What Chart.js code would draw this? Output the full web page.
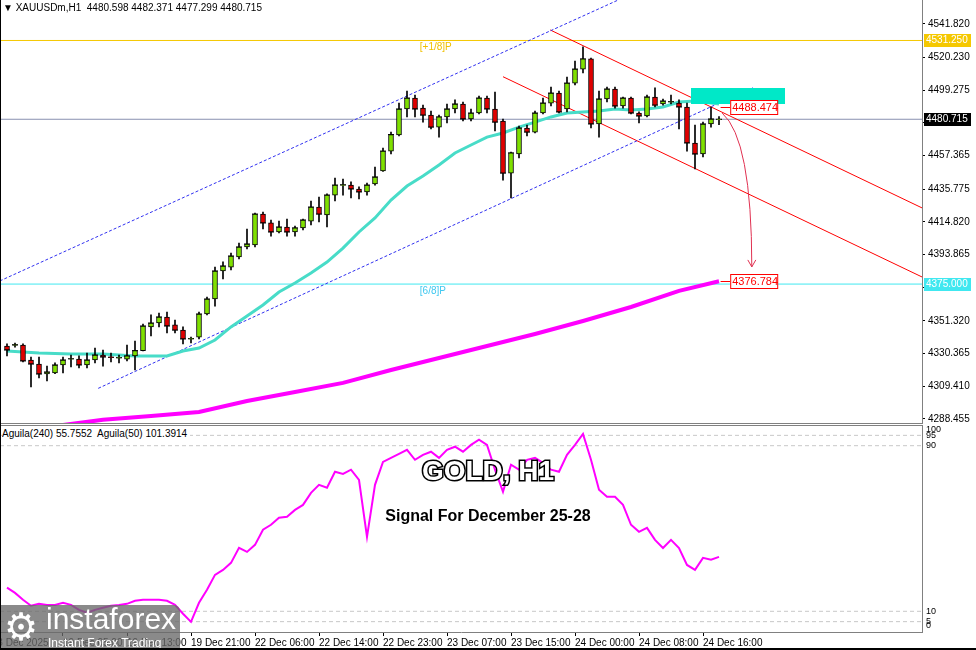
<!DOCTYPE html>
<html>
<head>
<meta charset="utf-8">
<script src="https://cdn.jsdelivr.net/npm/chart.js@4.4.0/dist/chart.umd.min.js"></script>
<style>
  html, body { margin: 0; padding: 0; background: #fff; }
  #wrap { position: relative; width: 976px; height: 650px; overflow: hidden; background: #fff;
          font-family: "Liberation Sans", Arial, sans-serif; }
  #main { position: absolute; left: 0; top: 0; }
  #ind { position: absolute; left: 0; top: 425px; }
  .hdr { position: absolute; left: 3px; top: 2px; font-size: 10px; color: #000; white-space: pre; }
  .indlbl { position: absolute; left: 2px; top: 428px; font-size: 10px; color: #000; background: #fff;
            padding-right: 3px; white-space: pre; }
  .big { position: absolute; left: 0; width: 976px; text-align: center; font-weight: bold; white-space: pre; }
  #gold { top: 455px; font-size: 28px; color: #fff; -webkit-text-stroke: 3px #000; paint-order: stroke fill; }
  #signal { top: 507px; font-size: 16px; color: #000; }
  #wm { position: absolute; left: 0; top: 605px; width: 180px; height: 45px; background: rgba(105,105,105,0.78);
        border-top-right-radius: 6px; color: #fff; }
  #wm .gear { position: absolute; left: 4px; top: 0px; font-size: 38px; font-family: "DejaVu Sans"; }
  #wm .name { position: absolute; left: 46px; top: -3px; font-size: 30px; }
  #wm .tag { position: absolute; left: 48px; top: 31px; font-size: 12px; }
  #edgeL { position: absolute; left: 0; top: 0; width: 1px; height: 650px; background: #000; }
  #edgeB { position: absolute; left: 0; top: 648px; width: 976px; height: 2px; background: #000; }
</style>
</head>
<body>
<div id="wrap">
  <canvas id="main" width="976" height="424"></canvas>
  <canvas id="ind" width="976" height="225"></canvas>
  <div class="hdr">▼ XAUUSDm,H1  4480.598 4482.371 4477.299 4480.715</div>
  <div class="indlbl">Aguila(240) 55.7552  Aguila(50) 101.3914</div>
  <div class="big" id="gold">GOLD, H1</div>
  <div class="big" id="signal">Signal For December 25-28</div>
  <div id="wm"><span class="gear">⚙</span><span class="name">instaforex</span><span class="tag">Instant Forex Trading</span></div>
  <div id="edgeL"></div>
  <div id="edgeB"></div>
</div>
<script>
// hourly candles, bar 0 .. 89
const opens = [4335.3, 4335.7, 4335.9, 4326.3, 4323.7, 4317.3, 4318.0, 4323.1, 4326.8, 4326.9,
  4323.1, 4326.3, 4329.5, 4328.3, 4327.5, 4326.9, 4328.9, 4332.3, 4347.5, 4350.0,
  4353.9, 4348.8, 4345.5, 4339.6, 4341.0, 4355.8, 4365.4, 4383.4, 4385.9, 4392.4,
  4398.8, 4400.1, 4419.9, 4414.2, 4408.4, 4411.6, 4408.4, 4411.0, 4415.4, 4424.4,
  4419.3, 4432.1, 4438.3, 4438.5, 4436.0, 4434.1, 4439.2, 4447.5, 4460.3, 4470.6,
  4487.3, 4494.3, 4487.9, 4483.4, 4475.7, 4482.2, 4487.3, 4490.5, 4480.9, 4484.7,
  4494.3, 4487.3, 4479.6, 4446.2, 4458.4, 4475.1, 4472.5, 4484.7, 4491.1, 4497.5,
  4487.3, 4503.9, 4512.9, 4519.4, 4477.7, 4493.7, 4500.1, 4489.2, 4494.3, 4484.7,
  4482.8, 4495.0, 4490.5, 4491.6, 4491.1, 4488.6, 4465.5, 4458.4, 4477.7, 4480.6];
const highs = [4336.6, 4337.2, 4336.6, 4328.2, 4328.2, 4322.4, 4324.4, 4328.2, 4329.5, 4328.9,
  4330.8, 4334.0, 4332.7, 4330.8, 4329.5, 4335.9, 4338.5, 4349.4, 4355.2, 4356.4,
  4357.1, 4351.9, 4347.5, 4341.0, 4357.1, 4366.7, 4385.9, 4389.2, 4394.9, 4401.3,
  4410.3, 4420.6, 4421.2, 4416.1, 4415.4, 4416.7, 4412.2, 4416.7, 4428.3, 4430.8,
  4432.8, 4443.0, 4442.4, 4440.5, 4437.3, 4439.8, 4450.1, 4462.3, 4472.5, 4491.1,
  4498.8, 4496.3, 4489.8, 4486.0, 4483.4, 4490.5, 4493.1, 4491.8, 4487.3, 4495.6,
  4495.6, 4498.2, 4480.9, 4459.7, 4476.4, 4477.0, 4486.0, 4494.3, 4501.4, 4498.8,
  4507.8, 4518.1, 4527.1, 4520.0, 4498.8, 4501.4, 4501.4, 4495.0, 4495.0, 4485.4,
  4496.3, 4500.8, 4493.7, 4496.3, 4493.1, 4491.1, 4477.0, 4478.9, 4488.6, 4482.4];
const lows = [4328.9, 4334.6, 4325.0, 4309.0, 4314.8, 4312.8, 4317.5, 4318.0, 4321.8, 4321.2,
  4321.2, 4324.4, 4322.4, 4325.0, 4324.4, 4325.7, 4319.9, 4332.1, 4341.7, 4347.5,
  4343.6, 4343.6, 4336.6, 4337.2, 4339.8, 4355.2, 4360.9, 4378.3, 4384.0, 4391.1,
  4397.5, 4398.8, 4410.3, 4405.8, 4407.8, 4405.8, 4405.8, 4409.7, 4412.9, 4414.8,
  4411.6, 4428.3, 4432.1, 4430.2, 4429.6, 4432.1, 4438.5, 4447.2, 4458.4, 4470.0,
  4482.2, 4482.2, 4478.9, 4474.5, 4469.3, 4478.3, 4484.7, 4479.6, 4479.6, 4484.1,
  4484.7, 4473.2, 4441.7, 4430.2, 4455.9, 4470.0, 4471.9, 4484.1, 4489.2, 4484.7,
  4485.4, 4502.7, 4510.4, 4475.1, 4469.3, 4491.8, 4487.9, 4487.9, 4484.1, 4478.3,
  4482.2, 4488.6, 4489.8, 4490.5, 4474.5, 4460.3, 4448.8, 4456.5, 4475.7, 4477.3];
const closes = [4332.7, 4336.1, 4325.7, 4323.7, 4317.3, 4318.6, 4323.1, 4326.3, 4327.1, 4323.1,
  4326.3, 4329.5, 4328.2, 4328.0, 4327.8, 4328.9, 4332.3, 4348.1, 4350.0, 4353.9,
  4348.1, 4345.5, 4339.8, 4340.0, 4355.8, 4365.4, 4383.4, 4386.6, 4393.0, 4398.8,
  4400.7, 4419.9, 4414.2, 4408.4, 4411.6, 4408.4, 4411.0, 4416.1, 4424.4, 4419.9,
  4432.1, 4438.5, 4438.7, 4436.0, 4434.1, 4438.5, 4443.7, 4460.3, 4470.9, 4487.3,
  4494.3, 4487.3, 4483.4, 4475.7, 4482.2, 4487.3, 4490.5, 4480.9, 4484.7, 4494.3,
  4487.3, 4478.9, 4446.2, 4459.1, 4475.1, 4472.5, 4484.7, 4491.1, 4497.5, 4485.4,
  4503.9, 4512.9, 4519.4, 4477.7, 4493.7, 4500.1, 4489.2, 4494.3, 4484.7, 4482.8,
  4495.0, 4489.8, 4492.4, 4492.0, 4488.6, 4465.5, 4458.4, 4477.7, 4480.9, 4480.7];

const maFastBars = [0, 4, 8, 12, 16, 20, 22, 24, 26, 28, 30, 32, 34, 36, 38, 40, 42, 44, 46, 48,
  50, 52, 54, 56, 58, 60, 62, 64, 66, 68, 70, 72, 74, 76, 78, 80, 82, 84, 86, 88, 89];
const maFast = [4332.1, 4330.8, 4330.1, 4330.1, 4328.9, 4328.9, 4332.1, 4334.0, 4339.1, 4347.5,
  4354.5, 4361.6, 4369.9, 4375.7, 4382.1, 4389.1, 4398.1, 4408.4, 4417.4, 4428.9,
  4437.9, 4444.3, 4451.4, 4459.1, 4464.2, 4469.3, 4471.9, 4475.7, 4478.9, 4482.2,
  4484.7, 4485.4, 4486.0, 4487.3, 4486.7, 4487.3, 4488.6, 4491.8, 4492.4, 4491.1, 4490.5];
const maSlowBars = [0, 7, 12, 18, 24, 30, 36, 42, 48, 54, 60, 66, 72, 78, 84, 89];
const maSlow = [4280.5, 4284.6, 4287.9, 4290.4, 4293.0, 4300.0, 4305.8, 4311.6, 4319.9, 4327.6,
  4335.3, 4343.0, 4351.3, 4360.3, 4370.6, 4376.8];

// Aguila oscillator, one value per bar
const aguila = [21.4, 18.9, 15.6, 12.7, 13.6, 13.1, 13.1, 14.1, 13.1, 10.7,
  9.3, 10.7, 11.7, 12.7, 13.1, 13.6, 15.1, 15.6, 15.6, 15.6,
  15.1, 13.1, 8.8, 4.9, 14.1, 20.4, 27.6, 30.0, 33.4, 40.7,
  38.7, 42.1, 49.4, 51.8, 55.2, 55.7, 59.0, 61.4, 67.2, 71.1,
  69.7, 77.4, 76.4, 78.4, 73.5, 46.0, 71.1, 82.2, 84.1, 86.1,
  88.0, 83.2, 85.6, 87.1, 84.1, 88.0, 89.5, 87.1, 90.4, 92.9,
  90.4, 78.4, 67.7, 80.8, 78.4, 83.2, 84.1, 81.7, 78.4, 77.4,
  85.6, 90.4, 95.7, 83.2, 68.7, 65.3, 65.3, 61.4, 51.8, 48.4,
  50.3, 44.5, 40.6, 44.5, 40.6, 32.4, 30.0, 35.8, 34.9, 36.3];
const aguilaLevels = [95, 90, 10, 5];
const aguilaTicks = [100, 95, 90, 10, 5, 0];

// drawn objects: [bar, price] pairs
const blueUpper = [[-0.9, 4377.0], [76.4, 4557.2]];
const blueLower = [[11.4, 4308.1], [93.25, 4501.1]];
const redUpper = [[67.9, 4538.0], [114.4, 4423.8]];
const redLower = [[62.0, 4508.0], [114.4, 4379.5]];
const zoneBars = [85.5, 97.25];
const zonePrices = [4490.5, 4500.8];
const levelPlus18 = 4531.25;
const level68 = 4375.0;
const lastPrice = 4480.715;
const targetTop = 4488.474;
const targetLow = 4376.784;
const arrowPath = [[89.4, 4484.7], [93.1, 4468.0], [93.1, 4386.0]];

const priceTicks = [4541.820, 4520.230, 4499.275, 4478.320, 4457.365, 4435.775, 4414.820,
  4393.865, 4372.910, 4351.320, 4330.365, 4309.410, 4288.455];
const timeTickBars = [-1.9, 7, 15, 23, 31, 39, 47, 55, 63, 71, 79, 87];
const timeTickLabels = ["18 Dec 2025", "19 Dec 05:00", "19 Dec 13:00", "19 Dec 21:00", "22 Dec 06:00",
  "22 Dec 14:00", "22 Dec 23:00", "23 Dec 07:00", "23 Dec 15:00", "24 Dec 00:00", "24 Dec 08:00", "24 Dec 16:00"];

const X_MIN = -0.875, X_MAX = 114.375;
const GREEN = "#7fe000", RED = "#e00000";
const FONT = "Liberation Sans";

const bars = opens.map((o, i) => i);
const pts = arr => arr.map(p => ({ x: p[0], y: p[1] }));
const fullLine = v => [{ x: X_MIN, y: v }, { x: X_MAX, y: v }];

function lineSet(data, color, width, dash, order) {
  return { type: "line", data: data, borderColor: color, borderWidth: width, borderDash: dash || [],
    pointRadius: 0, fill: false, tension: 0, order: order };
}

const overlay = {
  id: "overlay",
  afterDraw(chart) {
    const { ctx, chartArea: a, scales: { x, y } } = chart;
    ctx.save();
    ctx.strokeStyle = "#808080";
    ctx.lineWidth = 1;
    ctx.beginPath();
    ctx.moveTo(a.left, a.bottom - 0.5);
    ctx.lineTo(a.right, a.bottom - 0.5);
    ctx.stroke();

    ctx.font = "10px " + FONT;
    ctx.textBaseline = "top";
    ctx.fillStyle = "#f0c000";
    ctx.fillText("[+1/8]P", x.getPixelForValue(51.6), y.getPixelForValue(levelPlus18) + 2);
    ctx.fillStyle = "#40c8f0";
    ctx.fillText("[6/8]P", x.getPixelForValue(51.6), y.getPixelForValue(level68) + 2);

    // curved arrow
    const p = arrowPath.map(q => [x.getPixelForValue(q[0]), y.getPixelForValue(q[1])]);
    ctx.strokeStyle = "#e03050";
    ctx.lineWidth = 1;
    ctx.beginPath();
    ctx.moveTo(p[0][0], p[0][1]);
    ctx.quadraticCurveTo(p[1][0], p[1][1], p[2][0], p[2][1]);
    ctx.stroke();
    ctx.beginPath();
    ctx.moveTo(p[2][0] - 4, p[2][1] - 7);
    ctx.lineTo(p[2][0], p[2][1]);
    ctx.lineTo(p[2][0] + 4, p[2][1] - 7);
    ctx.stroke();

    // red price tags
    const tagX = x.getPixelForValue(90.4);
    [targetTop, targetLow].forEach(v => {
      const ty = Math.round(y.getPixelForValue(v)) + 0.5;
      ctx.strokeStyle = "#ff0000";
      ctx.beginPath();
      ctx.moveTo(x.getPixelForValue(89.2), ty);
      ctx.lineTo(tagX, ty);
      ctx.stroke();
      ctx.fillStyle = "#fff";
      ctx.fillRect(tagX, ty - 7, 47, 14);
      ctx.strokeRect(tagX + 0.5, ty - 7, 47, 14);
      ctx.fillStyle = "#ff0000";
      ctx.font = "11px " + FONT;
      ctx.textBaseline = "middle";
      ctx.fillText(v.toFixed(3), tagX + 2, ty + 0.5);
    });

    // axis tags
    [[levelPlus18, "#f5c800"], [lastPrice, "#000"], [level68, "#40e8f0"]].forEach(t => {
      const ty = Math.round(y.getPixelForValue(t[0]));
      ctx.fillStyle = t[1];
      ctx.fillRect(a.right + 2, ty - 6, 47, 13);
      ctx.fillStyle = "#fff";
      ctx.font = "10px " + FONT;
      ctx.textBaseline = "middle";
      ctx.fillText(t[0].toFixed(3), a.right + 4, ty + 0.5);
    });
    ctx.restore();
  }
};

new Chart(document.getElementById("main"), {
  type: "bar",
  data: {
    datasets: [
      { type: "line", data: [{ x: zoneBars[0], y: zonePrices[1] }, { x: zoneBars[1], y: zonePrices[1] }],
        borderWidth: 0, pointRadius: 0, fill: { value: zonePrices[0] }, backgroundColor: "#00e8c8", order: 0 },
      { type: "bar", data: bars.map(i => ({ x: i, y: [opens[i], closes[i]] })),
        backgroundColor: bars.map(i => closes[i] >= opens[i] ? GREEN : RED),
        borderColor: "#000", borderWidth: 1, borderSkipped: false, barThickness: 5, grouped: false, order: 1 },
      { type: "scatter", data: bars.map(i => ({ x: i, y: closes[i] })), pointStyle: "line",
        pointRadius: 3, borderColor: "#000", borderWidth: 1, showLine: false, order: 2 },
      { type: "bar", data: bars.map(i => ({ x: i, y: [lows[i], highs[i]] })),
        backgroundColor: "#000", barThickness: 1, grouped: false, order: 3 },
      lineSet(maFastBars.map((b, k) => ({ x: b, y: maFast[k] })), "#48dcc8", 3, null, 4),
      lineSet(maSlowBars.map((b, k) => ({ x: b, y: maSlow[k] })), "#ff00ff", 4, null, 4),
      lineSet(pts(blueUpper), "#3030f0", 1, [3, 2], 5),
      lineSet(pts(blueLower), "#3030f0", 1, [3, 2], 5),
      lineSet(pts(redUpper), "#ff0000", 1, null, 5),
      lineSet(pts(redLower), "#ff0000", 1, null, 5),
      lineSet(fullLine(levelPlus18), "#f5c800", 1, null, 6),
      lineSet(fullLine(level68), "#40e8f0", 1, null, 6),
      lineSet(fullLine(lastPrice), "#8890b0", 1, null, 6)
    ]
  },
  options: {
    responsive: false,
    animation: false,
    events: [],
    layout: { padding: 0, autoPadding: false },
    plugins: { legend: { display: false }, tooltip: { enabled: false } },
    scales: {
      x: { type: "linear", min: X_MIN, max: X_MAX, offset: false, display: false },
      y: {
        position: "right",
        min: 4285.24, max: 4557.21,
        afterBuildTicks: s => { s.ticks = priceTicks.map(v => ({ value: v })); },
        afterFit: s => { s.width = 54; s.paddingTop = 0; s.paddingBottom = 0; },
        ticks: { callback: v => v.toFixed(3), color: "#000", font: { family: FONT, size: 10 }, padding: 3 },
        grid: { drawOnChartArea: false, tickLength: 3, color: "#000" },
        border: { color: "#808080" }
      }
    }
  },
  plugins: [overlay]
});

const indOverlay = {
  id: "indOverlay",
  afterDraw(chart) {
    const { ctx, chartArea: a, scales: { y } } = chart;
    ctx.save();
    ctx.strokeStyle = "#808080";
    ctx.beginPath();
    ctx.moveTo(a.left, a.top + 0.5);
    ctx.lineTo(a.right, a.top + 0.5);
    ctx.stroke();
    ctx.fillStyle = "#000";
    ctx.font = "9px " + FONT;
    ctx.textBaseline = "middle";
    aguilaTicks.forEach(v => {
      const ty = Math.min(Math.max(y.getPixelForValue(v), a.top + 5), a.bottom - 6);
      ctx.fillText(String(v), a.right + 4, ty);
    });
    ctx.restore();
  }
};

new Chart(document.getElementById("ind"), {
  type: "line",
  data: {
    datasets: [
      lineSet(aguila.map((v, i) => ({ x: i, y: v })), "#ff00ff", 2, null, 1),
      ...aguilaLevels.map(v => lineSet(fullLine(v), "#c8c8c8", 1, [4, 3], 2))
    ]
  },
  options: {
    responsive: false,
    animation: false,
    events: [],
    layout: { padding: 0, autoPadding: false },
    plugins: { legend: { display: false }, tooltip: { enabled: false } },
    scales: {
      x: {
        type: "linear", min: X_MIN, max: X_MAX, offset: false,
        afterBuildTicks: s => { s.ticks = timeTickBars.map(v => ({ value: v })); },
        afterFit: s => { s.height = 18; s.paddingLeft = 0; s.paddingRight = 0; },
        ticks: { autoSkip: false, maxRotation: 0, align: "start", padding: 1, color: "#000",
          font: { family: FONT, size: 10 },
          callback: (v, k) => timeTickLabels[k] },
        grid: { drawOnChartArea: false, tickLength: 4, color: "#000" },
        border: { color: "#808080" }
      },
      y: {
        position: "right", min: 0, max: 100,
        afterFit: s => { s.width = 54; s.paddingTop = 0; s.paddingBottom = 0; },
        ticks: { display: false },
        grid: { drawOnChartArea: false, drawTicks: false },
        border: { color: "#808080" }
      }
    }
  },
  plugins: [indOverlay]
});
</script>
</body>
</html>
